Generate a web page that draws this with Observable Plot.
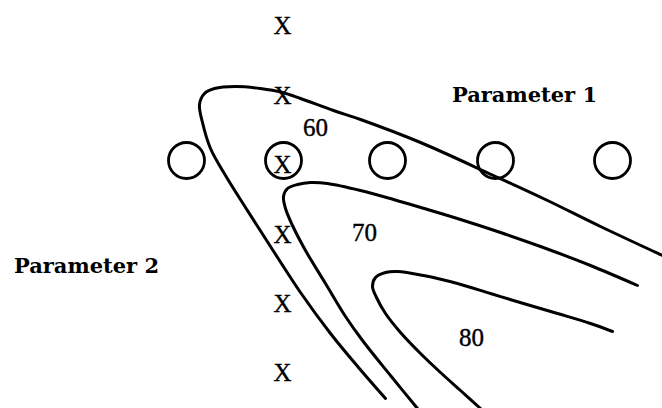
<!DOCTYPE html>
<html>
<head>
<meta charset="utf-8">
<script src="https://cdn.jsdelivr.net/npm/d3@7"></script>
<script src="https://cdn.jsdelivr.net/npm/@observablehq/plot@0.6"></script>
<style>
  html, body { margin: 0; padding: 0; background: #fff; }
  #chart svg { display: block; }
</style>
</head>
<body>
<div id="chart"></div>
<script>
// Design grid: Parameter 1 levels (circles) along a row,
// Parameter 2 levels (X marks) down a column, response contours over them.
const param1Levels = [186, 283, 387, 495, 612];
const param1Row = 160;
const param2Levels = [25, 95, 164, 234, 303, 372];
const param2Col = 282;

// Response contours, traced along the lower arm, round the ridge, out the upper arm.
const contour60 = [
  [385, 398], [358, 367], [330, 333], [300, 292], [270, 246], [245, 207],
  [225, 175], [210, 148], [202, 122], [199, 104], [204, 93], [214, 88],
  [235, 86], [260, 88], [282, 92], [300, 98], [333, 110], [360, 119],
  [420, 142], [493, 175], [547, 200], [600, 226], [662, 255]
];
const contour70 = [
  [417, 408], [390, 375], [362, 340], [345, 316], [325, 283], [305, 250],
  [292, 225], [285, 208], [283, 196], [287, 188], [297, 184], [310, 182],
  [327, 183], [360, 190], [393, 199], [427, 209], [460, 219], [500, 232],
  [540, 246], [590, 265], [637, 285]
];
const contour80 = [
  [480, 408], [460, 390], [440, 372], [420, 353], [400, 332], [385, 313],
  [376, 297], [372, 286], [375, 277], [385, 272], [397, 271], [423, 275],
  [457, 283], [490, 293], [523, 303], [557, 313], [590, 323], [612, 331]
];
const contourLabels = ["60", "70", "80"];
const contourLabelPos = [[315, 127], [364, 232], [471, 337]];

const axisNames = ["Parameter 1", "Parameter 2"];
const axisNamePos = [[524, 95], [86, 266]];

const toPts = (arr, level) => arr.map(([x, y]) => ({x, y, level}));
const contours = [
  ...toPts(contour60, 60),
  ...toPts(contour70, 70),
  ...toPts(contour80, 80)
];
const circles = param1Levels.map(x => ({x, y: param1Row}));
const xmarks = param2Levels.map(y => ({x: param2Col, y}));
const labels = contourLabels.map((t, i) => ({t, x: contourLabelPos[i][0], y: contourLabelPos[i][1]}));
const names = axisNames.map((t, i) => ({t, x: axisNamePos[i][0], y: axisNamePos[i][1]}));

const serif = "Liberation Serif, Times New Roman, serif";

const chart = Plot.plot({
  width: 662,
  height: 408,
  margin: 0,
  x: {domain: [0, 662], axis: null},
  y: {domain: [0, 408], reverse: true, axis: null},
  style: {background: "#fff"},
  marks: [
    Plot.dot(circles, {x: "x", y: "y", r: 18, stroke: "#000", strokeWidth: 2.8, fill: "none"}),
    Plot.line(contours, {x: "x", y: "y", z: "level", curve: "catmull-rom", stroke: "#000", strokeWidth: 3}),
    Plot.text(xmarks, {x: "x", y: "y", text: () => "X", fontFamily: serif, fontSize: 25, fill: "#000", stroke: "#000", strokeWidth: 0.4, lineAnchor: "middle"}),
    Plot.text(labels, {x: "x", y: "y", text: "t", fontFamily: serif, fontSize: 25, fill: "#000", stroke: "#000", strokeWidth: 0.4, lineAnchor: "middle"}),
    Plot.text(names, {x: "x", y: "y", text: "t", fontFamily: "DejaVu Serif, serif", fontWeight: "bold", fontSize: 21, fill: "#000", lineAnchor: "middle"})
  ]
});
document.getElementById("chart").appendChild(chart);
</script>
</body>
</html>
